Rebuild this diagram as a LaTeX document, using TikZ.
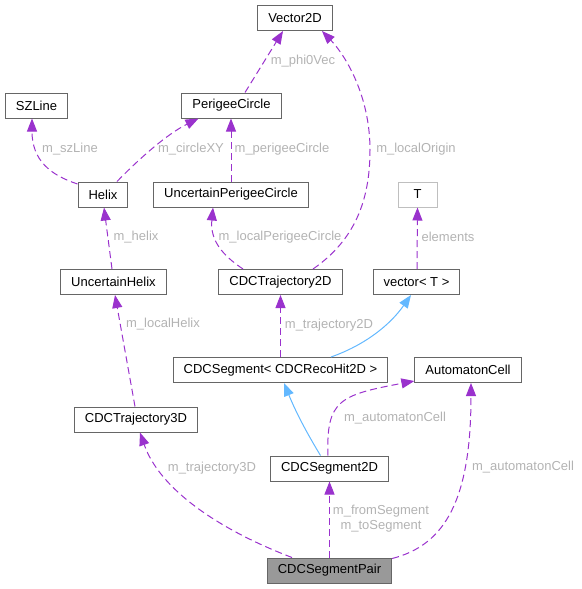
\documentclass[tikz,border=0pt]{standalone}
\usepackage{fontspec}
\setmainfont{Liberation Sans}
\usetikzlibrary{arrows.meta}
\definecolor{usecol}{HTML}{9A32CD}
\definecolor{inhcol}{HTML}{63B8FF}
\definecolor{lblcol}{HTML}{B3B3B3}
\definecolor{boxcol}{HTML}{666666}

\begin{document}
\begin{tikzpicture}[x=1pt,y=-1pt,
    font=\fontsize{13}{15}\selectfont,
    cls/.style={draw=boxcol,line width=1pt,fill=white,inner xsep=10.5pt,inner ysep=0pt,minimum height=25pt},
    uses/.style={draw=usecol,line width=1pt,dash pattern=on 7pt off 4pt,-{Triangle[length=13pt,width=10pt]}},
    inherits/.style={draw=inhcol,line width=1pt,-{Triangle[length=13pt,width=10pt]}},
    lbl/.style={text=lblcol,inner sep=0pt,align=center}]
        \useasboundingbox (0,0) rectangle (581,589);
        % classes
        \node[cls] (vec2d) at (295,18) {Vector2D};
        \node[cls] (szline) at (36.5,105.5) {SZLine};
        \node[cls] (perigee) at (231.5,105.5) {PerigeeCircle};
        \node[cls] (helix) at (103,194.5) {Helix};
        \node[cls] (uperigee) at (231,194.5) {UncertainPerigeeCircle};
        \node[cls,draw=gray!50,minimum width=39pt] (elemT) at (417.5,194.5) {T};
        \node[cls] (uhelix) at (113.5,282) {UncertainHelix};
        \node[cls] (traj2d) at (280.5,282) {CDCTrajectory2D};
        \node[cls] (vecT) at (416.5,282) {vector< T >};
        \node[cls] (segment) at (280.5,370) {CDCSegment< CDCRecoHit2D >};
        \node[cls] (cell) at (468,370) {AutomatonCell};
        \node[cls] (traj3d) at (136,419.5) {CDCTrajectory3D};
        \node[cls] (seg2d) at (329.5,468.5) {CDCSegment2D};
        \node[cls,fill=gray!80] (pair) at (329.5,570.5) {CDCSegmentPair};
        % members
        \draw[uses] ([xshift=13.5pt]perigee.north) -- ([xshift=-12pt]vec2d.south);
        \node[lbl] at (303,61) {m\_phi0Vec};
        \draw[uses] ([yshift=10.5pt]helix.west) .. controls (50,175) and (32,160) .. ([xshift=-4.5pt]szline.south);
        \node[lbl] at (70,149) {m\_szLine};
        \draw[uses] ([xshift=14pt]helix.north) .. controls (135,163) and (165,135) .. ([xshift=-33pt]perigee.south);
        \node[lbl] at (191,149) {m\_circleXY};
        \draw[uses] (uperigee.north) -- (uperigee.north |- perigee.south);
        \node[lbl] at (282,149) {m\_perigeeCircle};
        \draw[uses] ([xshift=32.5pt]traj2d.north) .. controls (355,240) and (370,200) .. (370,150)
            .. controls (370,95) and (345,55) .. ([xshift=27pt]vec2d.south);
        \node[lbl] at (416,149) {m\_localOrigin};
        \draw[uses] ([xshift=-37.5pt]traj2d.north) .. controls (222,255) and (210,240) .. ([xshift=-18pt]uperigee.south);
        \node[lbl] at (280,237) {m\_localPerigeeCircle};
        \draw[uses] ([xshift=-1.5pt]uhelix.north) -- ([xshift=1pt]helix.south);
        \node[lbl] at (136,237) {m\_helix};
        \draw[uses] ([xshift=0.5pt]vecT.north) -- (elemT.south);
        \node[lbl] at (448,237) {elements};
        \draw[inherits] ([xshift=50.5pt]segment.north) .. controls (365,345) and (390,325) .. ([xshift=-5.5pt]vecT.south);
        \draw[uses] (segment.north) -- (traj2d.south);
        \node[lbl] at (329,325) {m\_trajectory2D};
        \draw[uses] ([xshift=-1pt]traj3d.north) -- ([xshift=1.5pt]uhelix.south);
        \node[lbl] at (163,324) {m\_localHelix};
        \draw[inherits] ([xshift=-9pt]seg2d.north) .. controls (305,430) and (295,410) .. ([xshift=3.5pt]segment.south);
        \draw[uses] ([xshift=-1.5pt]seg2d.north) .. controls (326,400) and (340,395) .. ([yshift=2pt]cell.south west);
        \node[lbl] at (395,418) {m\_automatonCell};
        \draw[uses] ([xshift=-37.5pt]pair.north) .. controls (220,530) and (160,490) .. ([xshift=4pt]traj3d.south);
        \node[lbl] at (212,468) {m\_trajectory3D};
        \draw[uses] (pair.north) -- (seg2d.south);
        \node[lbl] at (381,519) {m\_fromSegment\\m\_toSegment};
        \draw[uses] ([yshift=-1pt]pair.north east) .. controls (445,545) and (471,500) .. ([xshift=3pt]cell.south);
        \node[lbl] at (523,467) {m\_automatonCell};
    \end{tikzpicture}
\end{document}
